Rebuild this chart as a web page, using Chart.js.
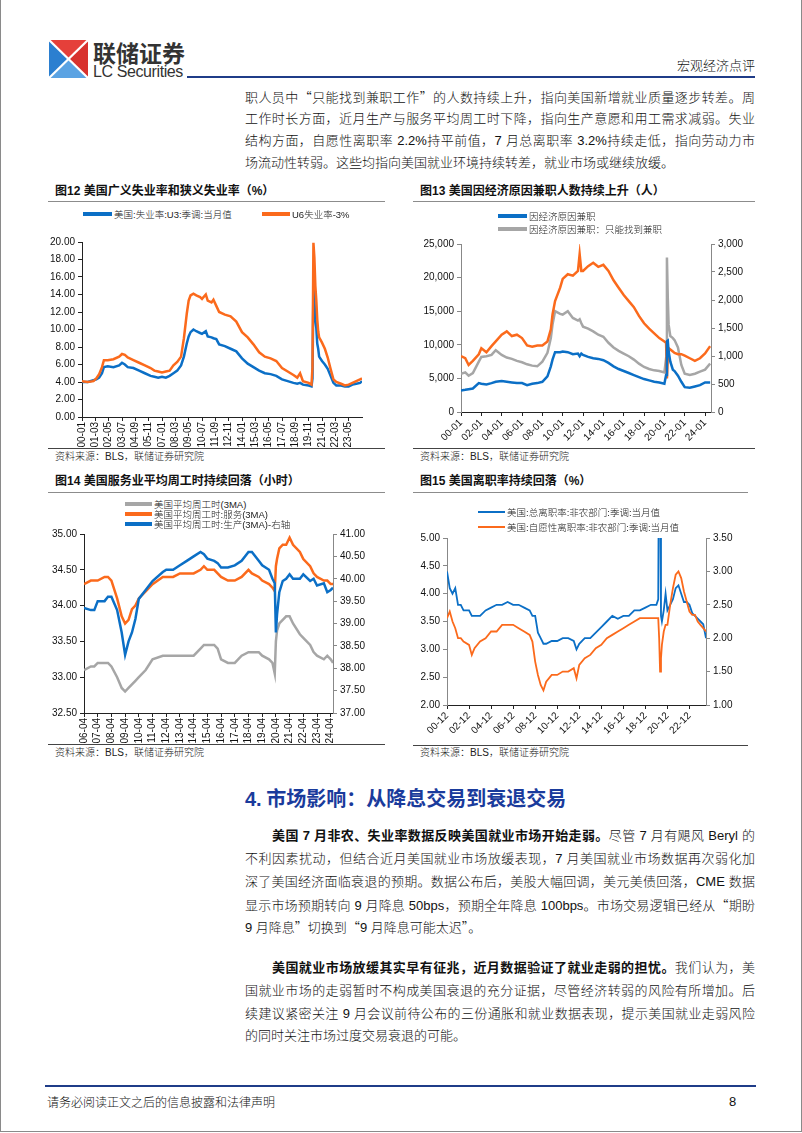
<!DOCTYPE html>
<html>
<head>
<meta charset="utf-8">
<script src="https://cdn.jsdelivr.net/npm/chart.js@4.4.1/dist/chart.umd.min.js"></script>
<style>
  body { margin: 0; background: #fff; }
  #page { position: relative; width: 802px; height: 1133px; overflow: hidden;
          font-family: "Liberation Sans", "Noto Sans CJK SC", sans-serif; color: #111; }
  .abs { position: absolute; }
  .frame { position: absolute; left: 0; top: -2px; width: 800px; height: 1132px; border: 1px solid #8a8a8a; }
  .ln { position: absolute; left: 245px; width: 510px; height: 22px; line-height: 22px; font-size: 13px;
        font-weight: 300; text-align: justify; text-align-last: justify; }
  .ln.last { text-align: left; text-align-last: left; }
  .ln b { font-weight: 700; }
  .q { font-family: "Noto Sans CJK SC"; }
  .ct { position: absolute; font-size: 12px; font-weight: 700; line-height: 14px; color: #111; }
  .src { position: absolute; font-size: 10px; line-height: 12px; font-weight: 300; color: #222; }
  .rule { position: absolute; height: 1px; background: #8c8c8c; }
  .lg { position: absolute; font-size: 9.5px; line-height: 11px; font-weight: 300; color: #222; white-space: nowrap; }
  .lg i { position: absolute; display: block; }
  canvas { position: absolute; }
</style>
</head>
<body>
<div id="page">
  <div class="frame"></div>

  <!-- header -->
  <svg class="abs" style="left:49px;top:40px" width="39" height="38" viewBox="0 0 39 38">
    <polygon points="0,0 19.5,19 0,38" fill="#2b7fd0"/>
    <polygon points="0,0 39,0 19.5,19" fill="#e5403a"/>
    <polygon points="39,0 39,38 19.5,19" fill="#d8322e"/>
    <polygon points="0,38 39,38 19.5,19" fill="#5ba3e3"/>
    <line x1="0" y1="0" x2="39" y2="38" stroke="#fff" stroke-width="2.2"/>
    <line x1="39" y1="0" x2="0" y2="38" stroke="#fff" stroke-width="2.2"/>
  </svg>
  <div class="abs" style="left:93px;top:38px;font-size:23px;line-height:28px;font-weight:700;color:#333;font-family:'Noto Sans CJK SC'">联储证券</div>
  <div class="abs" style="left:93px;top:63px;font-size:16px;line-height:18px;letter-spacing:-0.4px;color:#333">LC Securities</div>
  <div class="abs" style="left:187px;top:76px;width:568px;height:2px;background:#1f3c88"></div>
  <div class="abs" style="left:655px;top:58px;width:100px;text-align:right;font-size:13px;line-height:16px;font-weight:300">宏观经济点评</div>

  <!-- paragraph 1 -->
  <div class="ln" style="top:86px">职人员中<span class="q">“</span>只能找到兼职工作<span class="q">”</span>的人数持续上升，指向美国新增就业质量逐步转差。周</div>
  <div class="ln" style="top:108px">工作时长方面，近月生产与服务平均周工时下降，指向生产意愿和用工需求减弱。失业</div>
  <div class="ln" style="top:130px">结构方面，自愿性离职率 2.2%持平前值，7 月总离职率 3.2%持续走低，指向劳动力市</div>
  <div class="ln last" style="top:152px">场流动性转弱。这些均指向美国就业环境持续转差，就业市场或继续放缓。</div>

  <!-- chart titles / rules / sources -->
  <div class="ct" style="left:55px;top:184px">图12 美国广义失业率和狭义失业率（%）</div>
  <div class="rule" style="left:48px;top:201px;width:337px"></div>
  <div class="ct" style="left:420px;top:184px">图13 美国因经济原因兼职人数持续上升（人）</div>
  <div class="rule" style="left:413px;top:201px;width:342px"></div>
  <div class="rule" style="left:48px;top:448px;width:337px;background:#444"></div>
  <div class="rule" style="left:413px;top:448px;width:342px;background:#444"></div>
  <div class="src" style="left:55px;top:451px">资料来源：BLS，联储证券研究院</div>
  <div class="src" style="left:420px;top:451px">资料来源：BLS，联储证券研究院</div>

  <div class="ct" style="left:55px;top:474px">图14 美国服务业平均周工时持续回落（小时）</div>
  <div class="rule" style="left:48px;top:492px;width:337px"></div>
  <div class="ct" style="left:420px;top:474px">图15 美国离职率持续回落（%）</div>
  <div class="rule" style="left:413px;top:492px;width:335px"></div>
  <div class="rule" style="left:48px;top:744px;width:337px;background:#444"></div>
  <div class="rule" style="left:413px;top:745px;width:335px;background:#444"></div>
  <div class="src" style="left:55px;top:747px">资料来源：BLS，联储证券研究院</div>
  <div class="src" style="left:420px;top:747px">资料来源：BLS，联储证券研究院</div>

  <canvas id="c12" width="330" height="222" style="left:48px;top:226px"></canvas>
  <canvas id="c13" width="345" height="222" style="left:412px;top:226px"></canvas>
  <canvas id="c14" width="330" height="221" style="left:48px;top:522px"></canvas>
  <canvas id="c15" width="335" height="218" style="left:412px;top:528px"></canvas>
  <div id="legends"></div>

  <!-- section 4 -->
  <div class="abs" style="left:245px;top:785px;font-size:20px;line-height:26px;font-weight:700;color:#1a3b9c;font-family:'Noto Sans CJK SC'"><span style="font-family:'Liberation Sans'">4.</span> 市场影响：从降息交易到衰退交易</div>

  <div class="ln" style="top:825px;left:272px;width:483px"><b>美国 7 月非农、失业率数据反映美国就业市场开始走弱。</b>尽管 7 月有飓风 Beryl 的</div>
  <div class="ln" style="top:848px">不利因素扰动，但结合近月美国就业市场放缓表现，7 月美国就业市场数据再次弱化加</div>
  <div class="ln" style="top:871px">深了美国经济面临衰退的预期。数据公布后，美股大幅回调，美元美债回落，CME 数据</div>
  <div class="ln" style="top:894px">显示市场预期转向 9 月降息 50bps，预期全年降息 100bps。市场交易逻辑已经从<span class="q">“</span>期盼</div>
  <div class="ln last" style="top:916px">9 月降息<span class="q">”</span>切换到<span class="q">“</span>9 月降息可能太迟<span class="q">”</span>。</div>

  <div class="ln" style="top:957px;left:272px;width:483px"><b>美国就业市场放缓其实早有征兆，近月数据验证了就业走弱的担忧。</b>我们认为，美</div>
  <div class="ln" style="top:980px">国就业市场的走弱暂时不构成美国衰退的充分证据，尽管经济转弱的风险有所增加。后</div>
  <div class="ln" style="top:1003px">续建议紧密关注 9 月会议前待公布的三份通胀和就业数据表现，提示美国就业走弱风险</div>
  <div class="ln last" style="top:1025px">的同时关注市场过度交易衰退的可能。</div>

  <!-- footer -->
  <div class="abs" style="left:45px;top:1085px;width:711px;height:2px;background:#1f3c88"></div>
  <div class="abs" style="left:47px;top:1095px;font-size:12px;line-height:16px;font-weight:300">请务必阅读正文之后的信息披露和法律声明</div>
  <div class="abs" style="left:729px;top:1094px;font-size:13px;line-height:16px">8</div>
</div>

<script>
// colours
const BLUE = "#0b6fc6";
const ORANGE = "#fb6a1c";
const GRAY = "#a6a6a6";

// ---- 图12: month index from 2000-01
const months12 = [0,6,12,15,18,21,23,27,33,39,42,45,48,54,60,66,72,76,80,84,88,92,96,100,104,107,110,112,114,117,120,124,126,130,132,136,138,141,144,150,156,162,168,174,180,186,192,198,204,210,216,222,226,229,232,238,241,242,243,244,245,246,247,248,249,252,255,258,261,264,267,272,276,280,284,288,292,294];
const u3Rate = [4.0,4.0,4.2,4.3,4.5,5.0,5.7,5.8,5.7,5.9,6.2,6.0,5.7,5.6,5.3,5.0,4.7,4.6,4.5,4.6,4.5,4.7,5.0,5.3,5.9,6.9,8.4,9.2,9.7,10.0,9.8,9.6,9.5,9.8,9.2,9.1,9.0,8.9,8.3,8.1,7.8,7.5,6.7,6.1,5.7,5.3,5.0,4.9,4.7,4.3,4.1,3.9,3.8,3.9,3.7,3.6,3.5,4.4,14.8,13.3,11.1,10.2,8.4,7.8,6.9,6.4,6.0,5.5,4.7,3.9,3.6,3.6,3.5,3.5,3.7,3.8,3.9,4.1];
const u6Minus3 = [4.1,4.0,4.1,4.4,4.9,5.7,6.5,6.5,6.6,6.9,7.2,7.1,6.8,6.5,6.2,5.9,5.6,5.3,5.2,5.1,5.2,5.3,5.9,6.3,6.9,9.0,11.8,13.3,13.9,14.1,13.9,13.7,13.5,14.0,13.3,13.1,13.4,12.7,12.0,11.7,11.5,10.9,9.7,9.1,8.3,7.4,6.9,6.7,6.4,5.6,5.2,4.8,4.5,5.0,4.1,3.9,3.7,5.7,19.9,18.2,15.0,13.4,11.2,9.8,9.1,8.5,7.8,6.8,5.5,4.3,4.0,3.8,3.6,3.7,3.9,4.1,4.3,4.4];
const ticks12 = [0,14,28,42,56,70,84,98,112,126,140,154,168,182,196,210,224,238,252,266,280];
const labels12 = ["00-01","01-03","02-05","03-07","04-09","05-11","07-01","08-03","09-05","10-07","11-09","12-11","14-01","15-03","16-05","17-07","18-09","19-11","21-01","22-03","23-05"];

// ---- 图13: month index from 2000-01
const months13 = [0,5,9,14,21,24,30,36,41,48,54,60,66,72,78,84,90,96,102,106,108,111,117,120,126,132,138,140,142,144,150,156,162,168,174,180,186,192,198,204,210,216,222,228,234,240,242,243,244,245,247,250,252,256,260,264,270,276,282,288,294];
const ptEconomic = [3200,3300,3400,3500,4300,4200,4100,4300,4500,4600,4500,4400,4300,4300,4000,4200,4300,4500,5300,6800,7800,8900,8900,9000,8900,8600,8700,8300,8700,8500,8200,8000,7900,7700,7300,6800,6400,6100,5800,5500,5200,4900,4700,4500,4400,4200,5500,10500,10600,9000,7500,6300,6100,5400,4500,3700,3600,3800,4000,4400,4400];
const ptOnlyFind = [684,708,648,696,900,984,996,1020,1104,1020,972,948,912,888,852,828,816,900,1056,1320,1560,1800,1752,1740,1800,1680,1632,1656,1584,1524,1488,1440,1380,1344,1236,1152,1092,1044,996,936,864,804,768,744,732,708,960,2760,2040,1560,1356,1320,1284,1152,840,684,660,684,720,756,864];
const ptOther = [996,960,840,912,1032,1140,1068,1176,1260,1380,1440,1356,1380,1320,1188,1164,1188,1188,1260,1476,1740,1980,2220,2376,2460,2436,2520,2820,2520,2520,2604,2664,2592,2628,2520,2352,2220,2088,1980,1872,1716,1584,1488,1404,1320,1260,1236,600,960,1140,1116,1080,1056,1032,1032,1008,960,912,960,1044,1176];
const ticks13 = [0,24,48,72,96,120,144,168,192,216,240,264,288];
const labels13 = ["00-01","02-01","04-01","06-01","08-01","10-01","12-01","14-01","16-01","18-01","20-01","22-01","24-01"];

// ---- 图14: month index from 2006-04
const months14 = [0,6,9,12,18,21,24,29,33,36,39,42,45,48,54,60,69,72,78,84,90,96,102,105,108,114,117,120,126,132,138,144,147,153,156,162,165,167,168,169,171,174,177,180,183,189,192,198,201,204,210,213,216,218];
const hoursAll = [33.1,33.15,33.15,33.2,33.2,33.2,33.15,33.0,32.85,32.8,32.85,32.9,32.95,33.0,33.1,33.25,33.3,33.3,33.3,33.3,33.3,33.3,33.4,33.45,33.45,33.45,33.4,33.25,33.2,33.2,33.3,33.35,33.35,33.35,33.3,33.25,33.2,33.05,33.5,33.65,33.75,33.8,33.85,33.85,33.75,33.6,33.55,33.45,33.35,33.3,33.25,33.3,33.25,33.2];
const hoursService = [34.3,34.35,34.35,34.35,34.4,34.4,34.35,34.1,33.85,33.75,33.8,33.95,34.0,34.1,34.2,34.3,34.4,34.4,34.4,34.45,34.45,34.45,34.5,34.55,34.5,34.5,34.45,34.4,34.35,34.35,34.4,34.5,34.45,34.4,34.35,34.3,34.25,34.2,34.55,34.65,34.8,34.85,34.85,34.95,34.85,34.75,34.65,34.55,34.45,34.4,34.35,34.35,34.3,34.3];
const hoursProduction = [39.35,39.3,39.3,39.5,39.5,39.6,39.6,39.3,38.8,38.3,38.6,38.8,39.1,39.55,39.75,39.95,40.15,40.2,40.2,40.3,40.4,40.5,40.6,40.55,40.45,40.4,40.35,40.25,40.25,40.3,40.4,40.6,40.6,40.4,40.3,40.2,40.0,39.9,38.8,39.2,39.7,39.95,40.0,40.1,40.0,40.0,40.1,39.95,40.0,39.85,39.9,39.7,39.75,39.8];
const ticks14 = [0,12,24,36,48,60,72,84,96,108,120,132,144,156,168,180,192,204,216];
const labels14 = ["06-04","07-04","08-04","09-04","10-04","11-04","12-04","13-04","14-04","15-04","16-04","17-04","18-04","19-04","20-04","21-04","22-04","23-04","24-04"];

// ---- 图15: month index from 2000-12
const months15 = [0,3,6,9,12,15,18,24,27,30,36,42,48,54,60,66,72,78,84,90,93,96,99,102,105,108,114,120,126,132,138,141,144,150,156,162,168,174,180,186,192,198,204,210,216,222,228,230,231,232,233,234,236,238,240,243,246,249,252,255,258,261,264,267,270,273,276,279,282];
const sepTotal = [4.4,4.1,4.0,4.1,3.8,3.8,3.7,3.7,3.6,3.6,3.6,3.7,3.75,3.8,3.8,3.85,3.8,3.8,3.75,3.7,3.6,3.6,3.3,3.2,3.1,3.1,3.15,3.15,3.2,3.2,3.15,3.0,3.1,3.2,3.2,3.3,3.4,3.5,3.6,3.55,3.6,3.6,3.7,3.7,3.75,3.8,3.8,3.9,7.6,6.2,3.6,3.5,3.7,4.0,3.7,3.8,3.9,4.1,4.15,4.0,3.85,3.85,3.8,3.65,3.6,3.55,3.5,3.45,3.2];
const quitsRate = [2.3,2.4,2.25,2.15,2.0,2.0,1.95,1.9,1.75,1.85,1.95,2.0,2.1,2.1,2.2,2.2,2.2,2.15,2.1,2.05,1.95,1.65,1.45,1.3,1.22,1.35,1.45,1.45,1.5,1.5,1.55,1.4,1.6,1.7,1.75,1.85,1.9,2.0,2.05,2.1,2.15,2.2,2.25,2.3,2.3,2.3,2.3,2.3,2.0,1.5,1.7,1.9,2.1,2.2,2.2,2.5,2.75,2.95,3.0,2.9,2.7,2.55,2.4,2.35,2.35,2.25,2.2,2.15,2.1];
const ticks15 = [0,24,48,72,96,120,144,168,192,216,240,264];
const labels15 = ["00-12","02-12","04-12","06-12","08-12","10-12","12-12","14-12","16-12","18-12","20-12","22-12"];

const tickFont = { family: "Liberation Sans", size: 10 };

function series(label, months, values, color, width, axis, order) {
  return {
    label: label,
    data: months.map((m, i) => ({ x: m, y: values[i] })),
    borderColor: color,
    backgroundColor: color,
    borderWidth: width,
    pointRadius: 0,
    tension: 0,
    yAxisID: axis,
    order: order
  };
}

function yAxis(pos, min, max, step, digits, width, color) {
  return {
    type: "linear", position: pos, min: min, max: max,
    ticks: {
      stepSize: step, color: "#111", font: tickFont, padding: 3,
      callback: v => digits < 0 ? v.toLocaleString("en-US") : v.toFixed(digits)
    },
    grid: { drawOnChartArea: false, drawTicks: true, tickLength: 4, color: color },
    border: { display: true, color: color },
    afterFit: s => { s.width = width; }
  };
}

function xAxis(max, tickVals, tickLabels, rot, height) {
  return {
    type: "linear", min: 0, max: max,
    afterBuildTicks: s => { s.ticks = tickVals.map(v => ({ value: v })); },
    ticks: {
      autoSkip: false, minRotation: rot, maxRotation: rot, color: "#111", font: tickFont, padding: 1,
      callback: (v, i) => tickLabels[i]
    },
    grid: { drawOnChartArea: false, drawTicks: true, tickLength: 4, color: "#222" },
    border: { display: true, color: "#222" },
    afterFit: s => { s.height = height; }
  };
}

function makeChart(id, datasets, scales, pad) {
  return new Chart(document.getElementById(id), {
    type: "line",
    data: { datasets: datasets },
    options: {
      responsive: false, animation: false, devicePixelRatio: 1,
      layout: { padding: pad },
      plugins: { legend: { display: false }, tooltip: { enabled: false } },
      scales: scales
    }
  });
}

// legend drawn as html, read back from each chart's datasets
function legend(chart, index, x, y, w, lw) {
  const ds = chart.data.datasets[index];
  const el = document.createElement("div");
  el.className = "lg";
  el.style.left = x + "px";
  el.style.top = (y - 5.5) + "px";
  el.style.paddingLeft = (w + 2) + "px";
  el.textContent = ds.label;
  const sw = document.createElement("i");
  sw.style.left = "0px";
  sw.style.top = (5.5 - lw / 2) + "px";
  sw.style.width = w + "px";
  sw.style.height = lw + "px";
  sw.style.background = ds.borderColor;
  el.appendChild(sw);
  document.getElementById("legends").appendChild(el);
}

const ch12 = makeChart("c12", [
  series("美国:失业率:U3:季调:当月值", months12, u3Rate, BLUE, 2.5, "y", 1),
  series("U6失业率-3%", months12, u6Minus3, ORANGE, 2.5, "y", 0)
], {
  x: xAxis(294, ticks12, labels12, 90, 31),
  y: yAxis("left", 0, 20, 2, 2, 34, "#222")
}, { top: 16, right: 16, left: 0, bottom: 0 });
legend(ch12, 0, 83, 214, 29, 4);
legend(ch12, 1, 262, 214, 28, 4);

const ch13 = makeChart("c13", [
  series("因经济原因兼职", months13, ptEconomic, BLUE, 2.5, "y", 0),
  series("因经济原因兼职：只能找到兼职", months13, ptOnlyFind, GRAY, 2.5, "y1", 2),
  series("因经济原因兼职（右轴）", months13, ptOther, ORANGE, 2.5, "y1", 1)
], {
  x: xAxis(295, ticks13, labels13, 45, 36),
  y: yAxis("left", 0, 25000, 5000, -1, 49, "#888"),
  y1: yAxis("right", 0, 3000, 500, -1, 46, "#888")
}, { top: 18, right: 0, left: 0, bottom: 0 });
legend(ch13, 0, 498, 216, 29, 4);
legend(ch13, 1, 498, 229, 29, 4);

const ch14 = makeChart("c14", [
  series("美国平均周工时(3MA)", months14, hoursAll, GRAY, 2.5, "y", 2),
  series("美国平均周工时:服务(3MA)", months14, hoursService, ORANGE, 2.5, "y", 1),
  series("美国平均周工时:生产(3MA)-右轴", months14, hoursProduction, BLUE, 2.5, "y1", 0)
], {
  x: xAxis(218, ticks14, labels14, 90, 30),
  y: yAxis("left", 32.5, 35, 0.5, 2, 36, "#222"),
  y1: yAxis("right", 37, 41, 0.5, 2, 45, "#888")
}, { top: 12, right: 0, left: 0, bottom: 0 });
legend(ch14, 0, 125, 504, 27, 4);
legend(ch14, 1, 125, 514, 27, 4);
legend(ch14, 2, 125, 524, 27, 4);

const ch15 = makeChart("c15", [
  series("美国:总离职率:非农部门:季调:当月值", months15, sepTotal, BLUE, 1.8, "y", 1),
  series("美国:自愿性离职率:非农部门:季调:当月值", months15, quitsRate, ORANGE, 1.8, "y1", 0)
], {
  x: xAxis(282, ticks15, labels15, 45, 41),
  y: yAxis("left", 2, 5, 0.5, 2, 35, "#888"),
  y1: yAxis("right", 1, 3.5, 0.5, 2, 41, "#888")
}, { top: 10, right: 0, left: 0, bottom: 0 });
legend(ch15, 0, 478, 512, 27, 2.5);
legend(ch15, 1, 478, 527, 27, 2.5);
</script>
</body>
</html>
